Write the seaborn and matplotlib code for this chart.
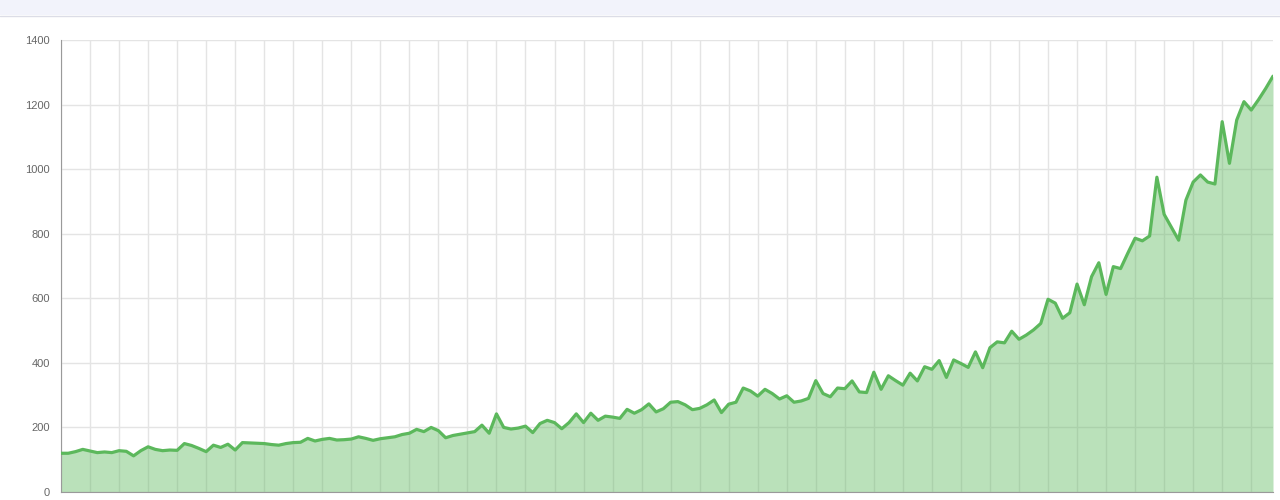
import matplotlib
matplotlib.use("Agg")
import matplotlib.pyplot as plt
from matplotlib.patches import Rectangle
import numpy as np
import pandas as pd
import seaborn as sns

# values, one per point (168 points)
values = [
    120, 120, 125, 132, 127, 122, 124, 122, 128, 126,
    112, 128, 140, 132, 128, 130, 129, 150, 144, 135,
    125, 145, 138, 148, 130, 153, 152, 151, 150, 147,
    145, 150, 153, 154, 166, 158, 163, 166, 161, 162,
    164, 171, 166, 160, 165, 168, 171, 178, 182, 194,
    187, 200, 190, 168, 175, 179, 183, 187, 207, 182,
    242, 200, 195, 198, 204, 184, 212, 222, 215, 196,
    215, 242, 215, 244, 222, 235, 232, 228, 256, 244,
    255, 273, 248, 258, 278, 280, 270, 255, 259, 270,
    285, 246, 272, 278, 322, 313, 297, 318, 305, 288,
    298, 278, 282, 290, 345, 305, 295, 322, 320, 344,
    310, 308, 371, 318, 360, 345, 331, 368, 344, 388,
    380, 407, 355, 409, 398, 386, 434, 385, 447, 465,
    462, 498, 473, 486, 502, 522, 597, 585, 538, 555,
    644, 580, 667, 710, 612, 698, 692, 740, 786, 778,
    793, 975, 860, 820, 780, 904, 960, 982, 960, 954,
    1147, 1018, 1152, 1209, 1183, 1215, 1250, 1288,
]
y_ticks = [0, 200, 400, 600, 800, 1000, 1200, 1400]
grid_every = 4

LINE = "#5cb85c"
df = pd.DataFrame({"idx": np.arange(len(values)), "value": values})

sns.set_style("white")
plt.rcParams["font.family"] = ["Liberation Sans", "DejaVu Sans"]

fig = plt.figure(figsize=(12.8, 5.0), dpi=100)
fig.patch.set_facecolor("white")
# light page strip above the card
fig.add_artist(Rectangle((0, 1 - 15 / 500), 1, 15 / 500, transform=fig.transFigure,
                         facecolor="#f2f3fb", edgecolor="none", zorder=0))
fig.add_artist(plt.Line2D([0, 1], [1 - 15.5 / 500] * 2, transform=fig.transFigure,
                          color="#dcdde6", linewidth=1))

ax = fig.add_axes([61 / 1280, 8 / 500, 1212 / 1280, 452 / 500])
ax.fill_between(df["idx"], df["value"], 0, color=LINE, alpha=0.42, linewidth=0,
                zorder=2)
sns.lineplot(data=df, x="idx", y="value", color=LINE, linewidth=2.3, ax=ax,
             zorder=3, solid_joinstyle="round", solid_capstyle="round")

ax.set_xlim(0, len(values) - 1)
ax.set_ylim(0, 1400)
ax.set_yticks(y_ticks)
ax.set_yticklabels([str(v) for v in y_ticks])
ax.set_xticks(list(range(0, len(values), grid_every)))
ax.set_xticklabels([])
ax.set_xlabel("")
ax.set_ylabel("")
ax.grid(True, color="#e4e4e4", linewidth=1)
ax.set_axisbelow(True)
ax.tick_params(axis="y", length=7, width=1, color="#dddddd", pad=1,
               labelsize=8, labelcolor="#666666")
ax.tick_params(axis="x", length=6, width=1, color="#e4e4e4")
for side in ["top", "right"]:
    ax.spines[side].set_visible(False)
ax.spines["left"].set_color("#9a9a9a")
ax.spines["bottom"].set_color("#9a9a9a")

plt.savefig("out.png", dpi=100)
plt.close()
